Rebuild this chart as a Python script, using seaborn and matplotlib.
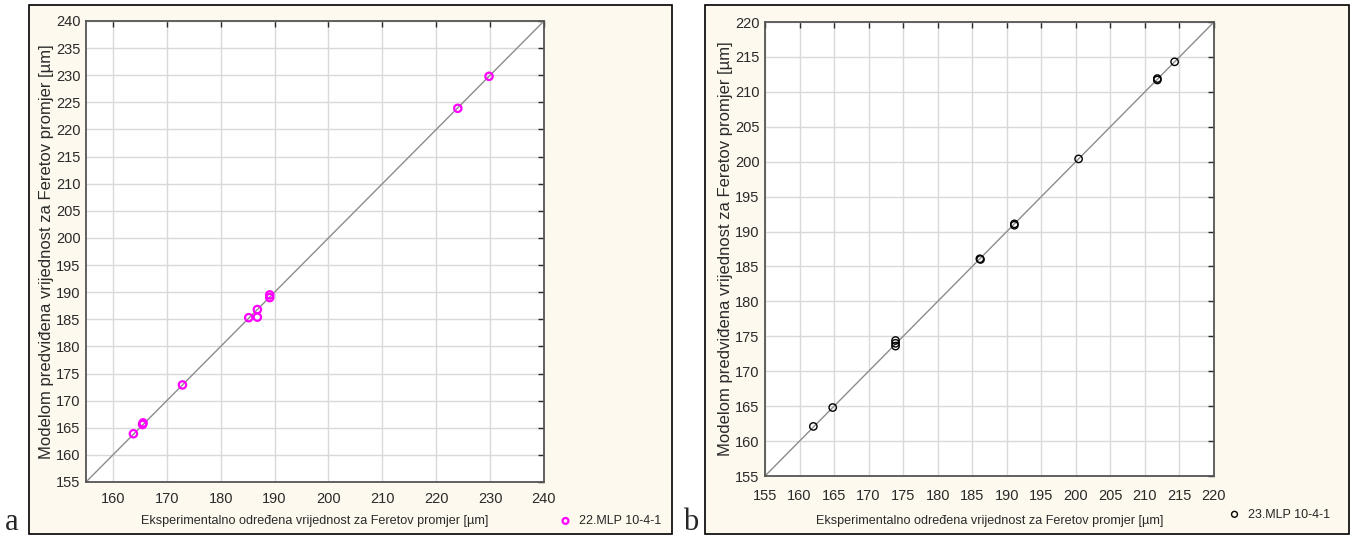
import numpy as np
import pandas as pd
import matplotlib
matplotlib.use("Agg")
import matplotlib.pyplot as plt
from matplotlib.patches import Rectangle
import seaborn as sns

# panel a: 22.MLP 10-4-1
a_exp = [163.8, 165.5, 165.6, 172.9, 185.2, 186.8, 186.8, 189.1, 189.1, 224.0, 229.8]
a_pred = [163.9, 165.6, 165.9, 172.9, 185.3, 185.4, 186.8, 189.0, 189.5, 223.9, 229.8]
# panel b: 23.MLP 10-4-1
b_exp = [162.0, 164.8, 173.9, 173.9, 173.9, 186.1, 186.2, 191.1, 191.1, 200.4, 211.8, 211.8, 214.3]
b_pred = [162.1, 164.8, 173.6, 174.0, 174.4, 186.1, 186.0, 190.9, 191.1, 200.4, 211.7, 211.9, 214.3]

xlab = "Eksperimentalno određena vrijednost za Feretov promjer [µm]"
ylab = "Modelom predviđena vrijednost za Feretov promjer [µm]"

sns.set_style("white")
plt.rcParams['font.family'] = ['Liberation Sans', 'DejaVu Sans']

W, H = 1351, 537
fig = plt.figure(figsize=(W / 100, H / 100), dpi=100, facecolor='white')
cream = '#fdf9ee'

def px_rect(x0, y0, x1, y1):
    return [x0 / W, 1 - y1 / H, (x1 - x0) / W, (y1 - y0) / H]

# cream panel boxes
for box in [(29, 5, 672, 534), (705, 5, 1349, 534)]:
    l, b, w, h = px_rect(*box)
    fig.patches.append(Rectangle((l, b), w, h, transform=fig.transFigure,
                                 facecolor=cream, edgecolor='black', lw=1.2, zorder=-10))

panels = [
    dict(rect=(86, 21, 544, 482), x=a_exp, y=a_pred, lim=(155, 240), xt=10, yt=5,
         color='#ff00ff', lw=1.6, label='22.MLP 10-4-1', leg_x=(548 - 86) / (544 - 86),
         xpad=7, xlpad=7, letter='a', lx=5),
    dict(rect=(765, 22, 1214, 476), x=b_exp, y=b_pred, lim=(155, 220), xt=5, yt=5,
         color='black', lw=1.0, label='23.MLP 10-4-1', leg_x=(1217 - 765) / (1214 - 765),
         xpad=9, xlpad=9, letter='b', lx=683),
]

for p in panels:
    ax = fig.add_axes(px_rect(*p['rect']))
    ax.set_facecolor('white')
    lo, hi = p['lim']
    ax.plot([lo, hi], [lo, hi], color='#8c8c8c', lw=1.0, zorder=2)
    df = pd.DataFrame({'exp': p['x'], 'pred': p['y']})
    sns.scatterplot(data=df, x='exp', y='pred', ax=ax, marker='o', s=28,
                    facecolors='none', edgecolor=p['color'], linewidth=p['lw'],
                    label=p['label'], zorder=3)
    ax.set_xlim(lo, hi)
    ax.set_ylim(lo, hi)
    ax.set_xticks(np.arange(160 if p['xt'] == 10 else lo, hi + 1, p['xt']))
    ax.set_yticks(np.arange(lo, hi + 1, p['yt']))
    ax.grid(True, color='#d9d9d9', lw=1.0)
    ax.set_axisbelow(True)
    ax.tick_params(direction='in', length=4, width=1, top=True, right=True,
                   labelsize=10.5, colors='#2a2a2a')
    ax.tick_params(axis='x', pad=p['xpad'])
    ax.tick_params(axis='y', pad=4)
    for s in ax.spines.values():
        s.set_color('#555555')
        s.set_linewidth(1.3)
    ax.set_xlabel(xlab, fontsize=9.1, color='#2a2a2a', labelpad=p['xlpad'])
    ax.set_ylabel(ylab, fontsize=12, color='#2a2a2a', labelpad=1)
    ax.legend(loc='center left', bbox_to_anchor=(p['leg_x'], -0.085), frameon=False,
              fontsize=9, handletextpad=0.1, markerscale=0.8, borderaxespad=0)
    fig.text(p['lx'] / W, 0 / H, p['letter'], family=['Liberation Serif', 'DejaVu Serif'],
             fontsize=22, ha='left', va='bottom')

fig.savefig('out.png', dpi=100, facecolor=fig.get_facecolor())
